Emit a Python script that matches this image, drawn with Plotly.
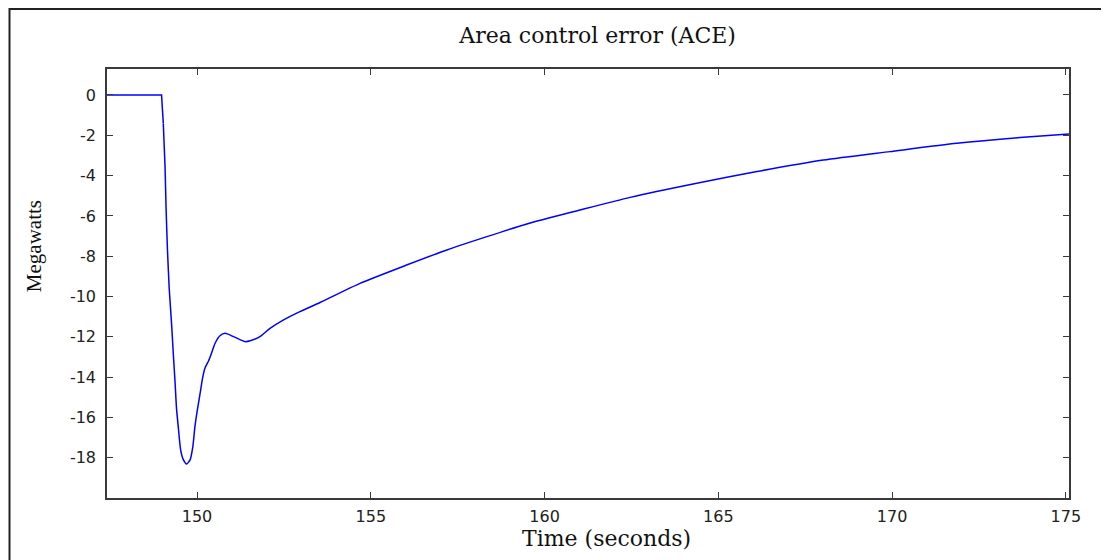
import plotly.graph_objects as go

# Data (time in seconds, ACE in megawatts)
time_s = [147.41, 148.98, 149.03, 149.08, 149.11, 149.15, 149.20, 149.27, 149.32,
          149.37, 149.41, 149.46, 149.53, 149.61, 149.70, 149.80, 149.88, 149.94,
          150.01, 150.09, 150.16, 150.23, 150.33, 150.42, 150.52, 150.66, 150.81,
          151.05, 151.38, 151.53, 151.81, 152.10, 152.48, 152.96, 153.54, 154.69,
          156.03, 157.19, 158.34, 159.49, 161.02, 162.46, 164.38, 166.11, 168.02,
          169.94, 171.86, 173.78, 175.09]
ace_mw = [0.0, 0.0, -1.41, -3.56, -5.62, -7.69, -9.59, -11.41, -12.90,
          -14.31, -15.55, -16.46, -17.62, -18.11, -18.31, -18.11, -17.45, -16.46,
          -15.63, -14.80, -14.05, -13.55, -13.20, -12.80, -12.32, -11.95, -11.83,
          -11.99, -12.24, -12.20, -11.99, -11.58, -11.17, -10.75, -10.30, -9.35,
          -8.44, -7.69, -7.03, -6.40, -5.71, -5.08, -4.38, -3.80, -3.23,
          -2.81, -2.40, -2.10, -1.94]

x_tick_vals = [150, 155, 160, 165, 170, 175]
x_tick_text = ["150", "155", "160", "165", "170", "175"]
y_tick_vals = [0, -2, -4, -6, -8, -10, -12, -14, -16, -18]
y_tick_text = ["0", "-2", "-4", "-6", "-8", "-10", "-12", "-14", "-16", "-18"]

title_text = "Area control error (ACE)"
x_label = "Time (seconds)"
y_label = "Megawatts"

# pre-disturbance flat part drawn straight, the response drawn smoothly
split = 2
line_style = dict(color="#0000FF", width=1.5)
fig = go.Figure()
fig.add_trace(go.Scatter(x=time_s[:split + 1], y=ace_mw[:split + 1], mode="lines",
                         line=line_style, hoverinfo="x+y", showlegend=False))
fig.add_trace(go.Scatter(x=time_s[split:], y=ace_mw[split:], mode="lines",
                         line=dict(shape="spline", smoothing=0.6, **line_style),
                         hoverinfo="x+y", showlegend=False))

axis_common = dict(
    showgrid=False, zeroline=False, showline=True, linecolor="#3a3a3a", linewidth=1.5,
    mirror="ticks", ticks="inside", ticklen=6, tickwidth=1.2, tickcolor="#3a3a3a",
    tickfont=dict(family="DejaVu Sans", size=16, color="#222222"),
)

# page has an 8px body margin: figure starts at page (8, 8)
fig.update_layout(
    width=1101, height=552,
    margin=dict(l=99, r=40, t=61, b=62),
    paper_bgcolor="white", plot_bgcolor="white",
    xaxis=dict(range=[147.41, 175.09], tickvals=x_tick_vals, ticktext=x_tick_text,
               ticklabelstandoff=3, **axis_common),
    yaxis=dict(range=[-20.0, 1.29], tickvals=y_tick_vals, ticktext=y_tick_text,
               ticklabelstandoff=6, **axis_common),
    title=dict(text=title_text, x=0.51, xref="paper", xanchor="center",
               y=1 - 27 / 552, yref="container", yanchor="middle",
               font=dict(family="DejaVu Serif", size=22, color="#111111")),
    annotations=[
        dict(text=x_label, xref="paper", yref="paper", x=0.519, y=-0.095,
             xanchor="center", yanchor="middle", showarrow=False,
             font=dict(family="DejaVu Serif", size=22, color="#111111")),
        dict(text=y_label, xref="paper", yref="paper", x=-0.0759, y=0.587,
             xanchor="center", yanchor="middle", showarrow=False, textangle=-90,
             font=dict(family="Liberation Serif", size=21, color="#111111")),
    ],
    shapes=[
        dict(type="rect", xref="paper", yref="paper",
             x0=(9.5 - 107) / 962, x1=(1130 - 107) / 962,
             y0=(498 - 590) / 429, y1=(498 - 9) / 429,
             line=dict(color="#222222", width=2), fillcolor="rgba(0,0,0,0)", layer="below"),
    ],
)

fig.write_html("out.html")
